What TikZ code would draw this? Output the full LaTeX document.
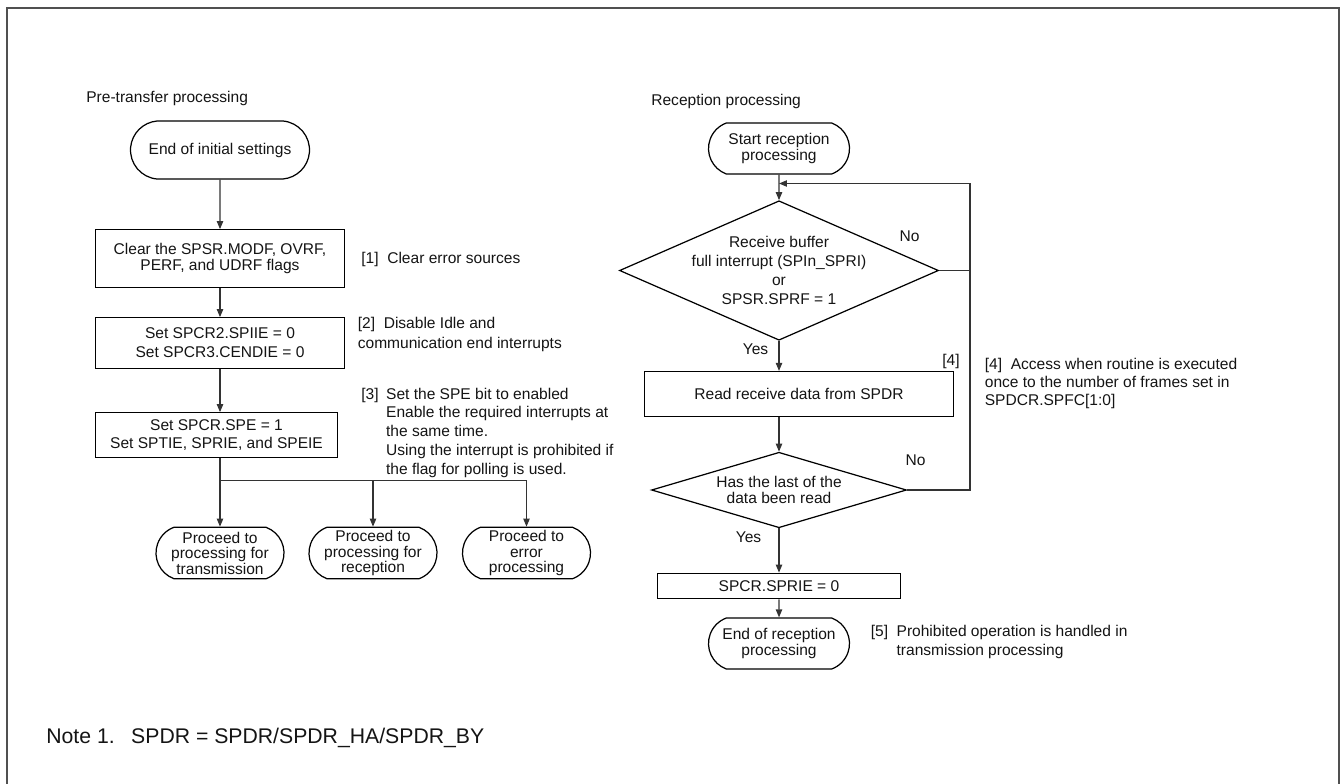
\documentclass[tikz,border=0pt]{standalone}
\usepackage{fontspec}
\setmainfont{Liberation Sans}
\usepackage{xcolor}
\usetikzlibrary{arrows.meta, positioning, shapes.geometric, shapes.misc}
\definecolor{encre}{HTML}{141414}
\definecolor{trait}{HTML}{333333}
\definecolor{cadre}{HTML}{505050}

\begin{document}
\begin{tikzpicture}[
    every node/.style={font=\fontsize{8.85}{10.7}\selectfont, text=encre},
    boite/.style={draw=black, line width=0.7pt, inner sep=0pt, align=center},
    borne/.style={draw=black, line width=0.7pt, rounded rectangle, rounded rectangle arc length=140,
      inner sep=0pt, align=center, minimum width=2.82cm, minimum height=1.02cm},
    losange/.style={draw=black, line width=0.7pt, diamond, inner sep=-0.3cm, align=center},
    fleche/.style={draw=trait, line width=0.6pt, -{Triangle[length=4.5pt, width=3.6pt]}},
    lien/.style={draw=trait, line width=0.6pt},
    remarque/.style={anchor=west, inner sep=0pt, align=left}
  ]
    \useasboundingbox (0,0) rectangle (26.82,15.66);
    \draw[cadre, line width=0.8pt] (0.14,-0.2) |- (26.78,15.5) -- (26.78,-0.2);

    % pre-transfer processing
    \node[remarque] (titreA) at (1.72,13.70) {Pre-transfer processing};
    \node[borne, rounded rectangle arc length=170, minimum width=3.58cm, minimum height=1.16cm] (t0) at (4.40,12.66) {End of initial settings};
    \node[boite, minimum width=4.99cm, minimum height=1.15cm, font=\fontsize{8.85}{9.5}\selectfont] (b1) at (4.40,10.49) {Clear the SPSR.MODF, OVRF,\\PERF, and UDRF flags};
    \node[remarque] (n1) at (7.22,10.47) {[1]\ \ Clear error sources};
    \node[boite, minimum width=4.99cm, minimum height=1.01cm] (b2) at (4.40,8.80) {Set SPCR2.SPIIE = 0\\Set SPCR3.CENDIE = 0};
    \node[remarque, font=\fontsize{8.85}{10.9}\selectfont] (n2) at (7.15,8.97) {[2]\ \ Disable Idle and\\communication end interrupts};
    \node[boite, minimum width=4.85cm, minimum height=0.89cm] (b3) at (4.33,6.96) {Set SPCR.SPE = 1\\Set SPTIE, SPRIE, and SPEIE};
    \node[remarque] (n3) at (7.22,7.00) {\begin{tabular}{@{}l@{\hspace{0.15cm}}l@{}}[3] & Set the SPE bit to enabled\\ & Enable the required interrupts at\\ & the same time.\\ & Using the interrupt is prohibited if\\ & the flag for polling is used.\end{tabular}};
    \coordinate (split) at (4.40,6.05);
    \node[borne, minimum width=2.56cm, minimum height=1.03cm, font=\fontsize{8.85}{8.8}\selectfont] (t1) at (4.40,4.60) {Proceed to\\processing for\\transmission};
    \node[borne, minimum width=2.56cm, minimum height=1.03cm, font=\fontsize{8.85}{8.8}\selectfont] (t2) at (7.46,4.60) {Proceed to\\processing for\\reception};
    \node[borne, minimum width=2.56cm, minimum height=1.03cm, font=\fontsize{8.85}{8.8}\selectfont] (t3) at (10.53,4.60) {Proceed to\\error\\processing};

    \draw[fleche] (t0) -- (b1);
    \draw[fleche] (b1) -- (b2);
    \draw[fleche] (b2.south) -- (b2.south |- b3.north);
    \draw[lien] (b2.south |- b3.south) -- (split) -- (split -| t3.north);
    \foreach \bout in {t1, t2, t3} {
      \draw[fleche] (split -| \bout.north) -- (\bout.north);
    }

    % reception processing
    \node[remarque] (titreB) at (13.02,13.63) {Reception processing};
    \node[borne, font=\fontsize{8.85}{9.2}\selectfont] (s0) at (15.58,12.69) {Start reception\\processing};
    \node[losange, aspect=2.29, minimum width=6.38cm, minimum height=2.79cm] (d1) at (15.58,10.25) {Receive buffer\\full interrupt (SPIn\_SPRI)\\or\\SPSR.SPRF = 1};
    \node (non1) at (18.19,10.93) {No};
    \node (oui1) at (15.11,8.67) {Yes};
    \node[boite, minimum width=6.19cm, minimum height=0.90cm] (r) at (15.98,7.78) {Read receive data from SPDR};
    \node[anchor=east, inner sep=0pt] (m4) at (19.20,8.43) {[4]};
    \node[remarque, font=\fontsize{8.85}{10.5}\selectfont] (n4) at (19.69,7.99) {[4]\ \ Access when routine is executed\\once to the number of frames set in\\SPDCR.SPFC[1:0]};
    \node[losange, aspect=3.38, minimum width=5.10cm, minimum height=1.51cm, font=\fontsize{8.85}{9.3}\selectfont] (d2) at (15.58,5.86) {Has the last of the\\data been read};
    \node (non2) at (18.31,6.45) {No};
    \node (oui2) at (14.97,4.91) {Yes};
    \node[boite, minimum width=4.87cm, minimum height=0.51cm] (sp) at (15.58,3.94) {SPCR.SPRIE = 0};
    \node[borne, font=\fontsize{8.85}{9.1}\selectfont] (e0) at (15.58,2.79) {End of reception\\processing};
    \node[remarque, font=\fontsize{8.85}{10.9}\selectfont] (n5) at (17.41,2.81) {\begin{tabular}{@{}l@{\hspace{0.17cm}}l@{}}[5] & Prohibited operation is handled in\\ & transmission processing\end{tabular}};
    \coordinate (retour) at (19.40,11.99);

    \draw[fleche] (s0) -- (d1);
    \draw[fleche] (d1.south) -- (d1.south |- r.north);
    \draw[fleche] (d1.south |- r.south) -- (d2.north);
    \draw[fleche] (d2) -- (sp);
    \draw[fleche] (sp) -- (e0);
    \draw[lien] (d1.east) -- (d1.east -| retour);
    \draw[fleche] (d2.east) -| (retour) -- (s0.south |- retour);

    \node[remarque, font=\fontsize{12.07}{14}\selectfont] (note) at (0.92,0.906) {Note 1.\hspace{0.33cm}SPDR = SPDR/SPDR\_HA/SPDR\_BY};
  \end{tikzpicture}
\end{document}
